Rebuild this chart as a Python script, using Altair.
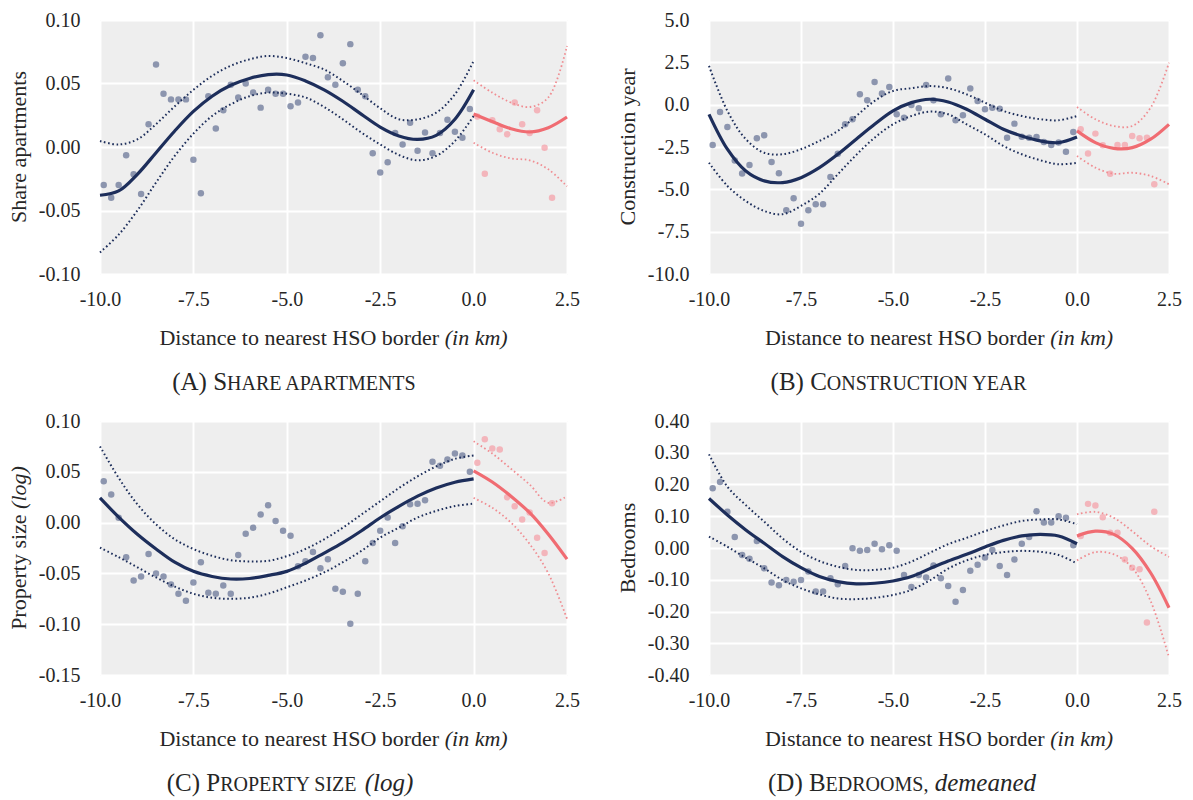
import altair as alt
import pandas as pd

# ---------------- shared x positions ----------------
X_LEFT = [-9.9, -9.7, -9.5, -9.3, -9.1, -8.9, -8.7, -8.5, -8.3, -8.1,
          -7.9, -7.7, -7.5, -7.3, -7.1, -6.9, -6.7, -6.5, -6.3, -6.1,
          -5.9, -5.7, -5.5, -5.3, -5.1, -4.9, -4.7, -4.5, -4.3, -4.1,
          -3.9, -3.7, -3.5, -3.3, -3.1, -2.9, -2.7, -2.5, -2.3, -2.1,
          -1.9, -1.7, -1.5, -1.3, -1.1, -0.9, -0.7, -0.5, -0.3, -0.1]
X_RIGHT = [0.1, 0.3, 0.5, 0.7, 0.9, 1.1, 1.3, 1.5, 1.7, 1.9, 2.1]
X_FIT_LEFT = [-10.0, -9.5, -9.0, -8.5, -8.0, -7.5, -7.0, -6.5, -6.0, -5.5, -5.0,
              -4.5, -4.0, -3.5, -3.0, -2.5, -2.0, -1.5, -1.0, -0.5, 0.0]
X_FIT_RIGHT = [0.0, 0.5, 1.0, 1.5, 2.0, 2.5]
X_TICKS = [-10.0, -7.5, -5.0, -2.5, 0.0, 2.5]

# ---------------- (A) Share apartments ----------------
A_PTS_L = [-0.030, -0.040, -0.030, -0.0065, -0.0215, -0.037, 0.018, 0.065, 0.042, 0.0375,
           0.0375, 0.0375, -0.010, -0.0365, 0.040, 0.0145, 0.029, 0.049, 0.039, 0.050,
           0.043, 0.031, 0.045, 0.042, 0.042, 0.032, 0.035, 0.071, 0.070, 0.088,
           0.055, 0.049, 0.066, 0.081, 0.045, 0.040, -0.005, -0.020, -0.012, 0.011,
           0.002, 0.019, -0.003, 0.0115, -0.005, 0.011, 0.0215, 0.012, 0.0073, 0.030]
A_PTS_R = [0.024, -0.021, 0.021, 0.014, 0.010, 0.035, 0.018, 0.011, 0.029, -0.0005, -0.040]
A_FIT_L = [-0.038, -0.0346, -0.0215, -0.0045, 0.0126, 0.028, 0.040, 0.0486, 0.054, 0.057, 0.0567,
           0.052, 0.045, 0.036, 0.0257, 0.0157, 0.0087, 0.006, 0.0092, 0.0218, 0.045]
A_HI_L = [0.0047, 0.002, 0.006, 0.018, 0.032, 0.045, 0.056, 0.064, 0.069, 0.0717, 0.070,
          0.066, 0.061, 0.052, 0.0415, 0.0305, 0.0218, 0.0218, 0.027, 0.0415, 0.0677]
A_LO_L = [-0.083, -0.069, -0.050, -0.028, -0.007, 0.0105, 0.0244, 0.0336, 0.040, 0.0428, 0.042,
          0.039, 0.0315, 0.0218, 0.0113, 0.002, -0.0063, -0.0105, -0.007, 0.0047, 0.0244]
A_FIT_R = [0.026, 0.020, 0.0144, 0.0118, 0.0152, 0.0236]
A_HI_R = [0.0525, 0.0428, 0.035, 0.0315, 0.039, 0.0795]
A_LO_R = [0.0034, -0.0045, -0.009, -0.0105, -0.0176, -0.031]
A_YTICKS = [-0.10, -0.05, 0.0, 0.05, 0.10]

# ---------------- (B) Construction year ----------------
B_PTS_L = [-2.38, -0.43, -1.32, -3.3, -4.06, -3.56, -1.99, -1.81, -3.38, -4.05,
           -6.24, -5.53, -7.03, -6.24, -5.88, -5.88, -4.27, -2.9, -1.16, -0.86,
           0.61, 0.26, 1.34, 0.66, 1.05, -0.57, -0.77, -0.02, -0.21, 1.16,
           0.26, -0.57, 1.54, -0.92, -0.63, 0.95, 0.22, -0.27, -0.18, -0.24,
           -1.95, -1.12, -1.89, -1.95, -1.91, -2.20, -2.38, -2.24, -2.78, -1.61]
B_PTS_R = [-1.45, -2.89, -1.71, -2.4, -4.08, -2.38, -2.38, -1.85, -1.98, -1.95, -4.70]
B_FIT_L = [-0.57, -2.63, -3.92, -4.5, -4.6, -4.31, -3.72, -2.93, -2.04, -1.16, -0.37,
           0.12, 0.32, 0.16, -0.27, -0.86, -1.45, -1.85, -2.14, -2.24, -1.91]
B_HI_L = [2.29, -0.37, -2.04, -2.84, -2.93, -2.63, -2.14, -1.55, -0.67, 0.22, 0.81,
          0.97, 1.10, 0.97, 0.61, 0.12, -0.37, -0.67, -0.86, -0.92, -0.67]
B_LO_L = [-3.43, -4.8, -5.69, -6.28, -6.47, -5.98, -5.26, -4.11, -2.97, -1.95, -1.16,
          -0.67, -0.41, -0.57, -1.16, -1.75, -2.44, -2.93, -3.28, -3.52, -3.43]
B_FIT_R = [-1.55, -2.24, -2.58, -2.54, -2.04, -1.16]
B_HI_R = [-0.14, -0.86, -1.26, -1.26, -0.18, 2.48]
B_LO_R = [-3.03, -3.72, -4.08, -4.02, -4.21, -4.70]
B_YTICKS = [-10.0, -7.5, -5.0, -2.5, 0.0, 2.5, 5.0]

# ---------------- (C) Property size (log) ----------------
C_PTS_L = [0.0407, 0.0277, 0.0048, -0.034, -0.057, -0.053, -0.031, -0.050, -0.053, -0.061,
           -0.070, -0.077, -0.059, -0.039, -0.069, -0.070, -0.062, -0.070, -0.032, -0.011,
           -0.005, 0.008, 0.017, 0.0016, -0.008, -0.013, -0.043, -0.038, -0.029, -0.045,
           -0.036, -0.065, -0.068, -0.0995, -0.070, -0.038, -0.020, -0.008, 0.005, -0.020,
           -0.0035, 0.018, 0.0185, 0.022, 0.060, 0.056, 0.062, 0.068, 0.066, 0.050]
C_PTS_R = [0.059, 0.082, 0.073, 0.072, 0.025, 0.016, 0.003, 0.010, -0.015, -0.030, 0.019]
C_FIT_L = [0.0243, 0.0054, -0.0115, -0.026, -0.039, -0.048, -0.053, -0.0555, -0.055, -0.052, -0.048,
           -0.040, -0.030, -0.0197, -0.008, 0.0048, 0.016, 0.026, 0.034, 0.0397, 0.043]
C_HI_L = [0.075, 0.044, 0.018, -0.0017, -0.0164, -0.026, -0.0327, -0.037, -0.0382, -0.0376, -0.033,
          -0.026, -0.0164, -0.005, 0.008, 0.021, 0.034, 0.0455, 0.0553, 0.0628, 0.066]
C_LO_L = [-0.0246, -0.034, -0.044, -0.054, -0.063, -0.070, -0.074, -0.075, -0.074, -0.070, -0.0637,
          -0.057, -0.049, -0.039, -0.0278, -0.0148, -0.005, 0.005, 0.0115, 0.0163, 0.0186]
C_FIT_R = [0.051, 0.040, 0.026, 0.0097, -0.0115, -0.036]
C_HI_R = [0.080, 0.068, 0.053, 0.0374, 0.0194, 0.026]
C_LO_R = [0.0243, 0.0146, 0.0, -0.021, -0.050, -0.0946]
C_YTICKS = [-0.15, -0.10, -0.05, 0.0, 0.05, 0.10]

# ---------------- (D) Bedrooms, demeaned ----------------
D_PTS_L = [0.188, 0.208, 0.114, 0.035, -0.022, -0.034, 0.022, -0.064, -0.109, -0.117,
           -0.101, -0.106, -0.101, -0.074, -0.137, -0.137, -0.095, -0.114, -0.057, -0.001,
           -0.009, -0.006, 0.0135, -0.004, 0.009, -0.009, -0.085, -0.123, -0.085, -0.093,
           -0.055, -0.095, -0.120, -0.169, -0.132, -0.072, -0.053, -0.030, -0.006, -0.057,
           -0.085, -0.036, 0.0135, 0.035, 0.116, 0.080, 0.080, 0.100, 0.095, 0.009]
D_PTS_R = [0.038, 0.139, 0.134, 0.097, 0.048, 0.048, -0.036, -0.062, -0.067, -0.235, 0.114]
D_FIT_L = [0.156, 0.104, 0.057, 0.015, -0.027, -0.062, -0.090, -0.106, -0.113, -0.111, -0.104,
           -0.090, -0.065, -0.041, -0.020, 0.003, 0.024, 0.038, 0.043, 0.038, 0.0135]
D_HI_L = [0.295, 0.193, 0.135, 0.083, 0.030, -0.012, -0.041, -0.059, -0.069, -0.069, -0.062,
          -0.043, -0.015, 0.012, 0.032, 0.053, 0.071, 0.085, 0.090, 0.090, 0.075]
D_LO_L = [0.036, 0.004, -0.031, -0.064, -0.101, -0.127, -0.146, -0.159, -0.161, -0.157, -0.148,
          -0.132, -0.102, -0.065, -0.039, -0.022, -0.013, -0.009, -0.012, -0.022, -0.049]
D_FIT_R = [0.038, 0.053, 0.043, -0.001, -0.078, -0.188]
D_HI_R = [0.106, 0.114, 0.095, 0.053, 0.006, -0.028]
D_LO_R = [-0.039, -0.013, -0.020, -0.062, -0.167, -0.345]
D_YTICKS = [-0.40, -0.30, -0.20, -0.10, 0.0, 0.10, 0.20, 0.30, 0.40]

# ---------------- texts ----------------
X_TITLE = [("Distance to nearest HSO border ", False), ("(in km)", True)]
Y_TITLES = {
    "A": [("Share apartments", False)],
    "B": [("Construction year", False)],
    "C": [("Property size ", False), ("(log)", True)],
    "D": [("Bedrooms", False)],
}
CAPTIONS = {
    "A": [("(A) S", "big", False), ("HARE APARTMENTS", "small", False)],
    "B": [("(B) C", "big", False), ("ONSTRUCTION YEAR", "small", False)],
    "C": [("(C) P", "big", False), ("ROPERTY SIZE", "small", False), (" (log)", "big", True)],
    "D": [("(D) B", "big", False), ("EDROOMS,", "small", False), (" demeaned", "big", True)],
}

# ---------------- style ----------------
FONT = "Liberation Serif"
TEXT_COLOR = "#262626"
BG = "#eeeeee"
BLUE_PT = "#5d6a8f"
BLUE_LINE = "#1d2e5b"
PINK_PT = "#f59aa2"
PINK_LINE = "#f06c72"
PINK_DOT = "#f08d92"
LABEL_SIZE = 20
TITLE_SIZE = 22
CAP_BIG = 25
CAP_SMALL = 20
MINUS_FIX = "replace(datum.label, '\u2212', '-')"

# Times / Liberation Serif advance widths (1/1000 em)
W_REG = {' ': 250, '(': 333, ')': 333, ',': 250, '-': 333, '.': 250,
         'A': 722, 'B': 667, 'C': 667, 'D': 722, 'E': 611, 'F': 556, 'G': 722, 'H': 722,
         'I': 333, 'J': 389, 'K': 722, 'L': 611, 'M': 889, 'N': 722, 'O': 722, 'P': 556,
         'Q': 722, 'R': 667, 'S': 556, 'T': 611, 'U': 722, 'V': 722, 'W': 944, 'X': 722,
         'Y': 722, 'Z': 611,
         'a': 444, 'b': 500, 'c': 444, 'd': 500, 'e': 444, 'f': 333, 'g': 500, 'h': 500,
         'i': 278, 'j': 278, 'k': 500, 'l': 278, 'm': 778, 'n': 500, 'o': 500, 'p': 500,
         'q': 500, 'r': 333, 's': 389, 't': 278, 'u': 500, 'v': 500, 'w': 722, 'x': 500,
         'y': 500, 'z': 444}
W_IT = dict(W_REG)
W_IT.update({'a': 500, 'f': 278, 'k': 444, 'm': 722, 'r': 389, 'v': 444, 'w': 667,
             'x': 444, 'y': 444, 'z': 389})


def tw(s, size, italic):
    table = W_IT if italic else W_REG
    return sum(table.get(c, 500) for c in s) / 1000.0 * size


def text_mark(txt, x, y, size, italic=False, angle=0, align="left"):
    df = pd.DataFrame({"t": [txt]})
    return alt.Chart(df).mark_text(
        align=align, baseline="alphabetic", font=FONT, fontSize=size,
        fontStyle="italic" if italic else "normal", color=TEXT_COLOR, angle=angle
    ).encode(text="t:N", x=alt.value(x), y=alt.value(y))


def seg_layout(segs):
    out = []
    cum = 0.0
    for s, size, it in segs:
        lead = len(s) - len(s.lstrip())
        out.append((s.strip(), cum + tw(s[:lead], size, it), size, it))
        cum += tw(s, size, it)
    return out, cum


def panel(key, pts_l, pts_r, fit_l, hi_l, lo_l, fit_r, hi_r, lo_r,
          ydom, yticks, yfmt, w, h, cap_center):
    x_enc = alt.X("x:Q", scale=alt.Scale(domain=[-10, 2.5], nice=False, zero=False),
                  axis=alt.Axis(values=X_TICKS, format=".1f", labelExpr=MINUS_FIX,
                                title=None, labelFlush=False, labelOverlap=False, grid=True))
    y_enc = alt.Y("y:Q", scale=alt.Scale(domain=ydom, nice=False, zero=False),
                  axis=alt.Axis(values=yticks, format=yfmt, labelExpr=MINUS_FIX,
                                title=None, labelOverlap=False, grid=True))

    d_pl = pd.DataFrame({"x": X_LEFT, "y": pts_l})
    d_pr = pd.DataFrame({"x": X_RIGHT, "y": pts_r})
    d_fl = pd.DataFrame({"x": X_FIT_LEFT, "y": fit_l})
    d_fr = pd.DataFrame({"x": X_FIT_RIGHT, "y": fit_r})
    d_bl = pd.DataFrame({"x": X_FIT_LEFT + X_FIT_LEFT, "y": hi_l + lo_l,
                         "band": ["hi"] * len(hi_l) + ["lo"] * len(lo_l)})
    d_br = pd.DataFrame({"x": X_FIT_RIGHT + X_FIT_RIGHT, "y": hi_r + lo_r,
                         "band": ["hi"] * len(hi_r) + ["lo"] * len(lo_r)})

    interp = "catmull-rom"
    pl = alt.Chart(d_pl).mark_circle(size=42, color=BLUE_PT, opacity=0.68).encode(x=x_enc, y=y_enc)
    pr = alt.Chart(d_pr).mark_circle(size=42, color=PINK_PT, opacity=0.68).encode(x=x_enc, y=y_enc)
    bl = alt.Chart(d_bl).mark_line(color=BLUE_LINE, strokeWidth=2, strokeDash=[1.6, 2.6],
                                   interpolate=interp).encode(x=x_enc, y=y_enc, detail="band:N")
    br = alt.Chart(d_br).mark_line(color=PINK_DOT, strokeWidth=1.8, strokeDash=[1.6, 2.6],
                                   interpolate=interp).encode(x=x_enc, y=y_enc, detail="band:N")
    fl = alt.Chart(d_fl).mark_line(color=BLUE_LINE, strokeWidth=3.2,
                                   interpolate=interp).encode(x=x_enc, y=y_enc)
    fr = alt.Chart(d_fr).mark_line(color=PINK_LINE, strokeWidth=3.2,
                                   interpolate=interp).encode(x=x_enc, y=y_enc)

    layers = [pl, pr, bl, br, fl, fr]

    segs, total = seg_layout([(s, TITLE_SIZE, it) for s, it in X_TITLE])
    start = w / 2 - total / 2
    for s, off, size, it in segs:
        layers.append(text_mark(s, start + off, h + 71, size, it))

    segs, total = seg_layout([(s, TITLE_SIZE, it) for s, it in Y_TITLES[key]])
    start = h / 2 + total / 2
    for s, off, size, it in segs:
        layers.append(text_mark(s, -74, start - off, size, it, angle=270))

    segs, total = seg_layout([(s, CAP_BIG if kind == "big" else CAP_SMALL, it)
                              for s, kind, it in CAPTIONS[key]])
    start = cap_center - total / 2
    for s, off, size, it in segs:
        layers.append(text_mark(s, start + off, h + 116, size, it))

    return alt.layer(*layers).properties(width=w, height=h)


W1, W2, H = 467, 460, 254
pA = panel("A", A_PTS_L, A_PTS_R, A_FIT_L, A_HI_L, A_LO_L, A_FIT_R, A_HI_R, A_LO_R,
           [-0.10, 0.10], A_YTICKS, ".2f", W1, H, 196)
pB = panel("B", B_PTS_L, B_PTS_R, B_FIT_L, B_HI_L, B_LO_L, B_FIT_R, B_HI_R, B_LO_R,
           [-10, 5], B_YTICKS, ".1f", W2, H, 190)
pC = panel("C", C_PTS_L, C_PTS_R, C_FIT_L, C_HI_L, C_LO_L, C_FIT_R, C_HI_R, C_LO_R,
           [-0.15, 0.10], C_YTICKS, ".2f", W1, H, 190)
pD = panel("D", D_PTS_L, D_PTS_R, D_FIT_L, D_HI_L, D_LO_L, D_FIT_R, D_HI_R, D_LO_R,
           [-0.40, 0.40], D_YTICKS, ".2f", W2, H, 193)

chart = alt.concat(pA, pB, pC, pD, columns=2, bounds="flush",
                   spacing={"row": 147, "column": 142}).properties(
    padding={"left": 7, "top": 9, "right": 5, "bottom": 3}
).configure_view(
    fill=BG, stroke=BG
).configure_axis(
    labelFont=FONT, labelFontSize=LABEL_SIZE, labelColor=TEXT_COLOR,
    domain=False, ticks=False, gridColor="white", gridWidth=2, gridOpacity=1
).configure_axisX(
    labelPadding=15
).configure_axisY(
    labelPadding=20
)

chart.save("out.html", embed_options={"renderer": "svg", "actions": False})
